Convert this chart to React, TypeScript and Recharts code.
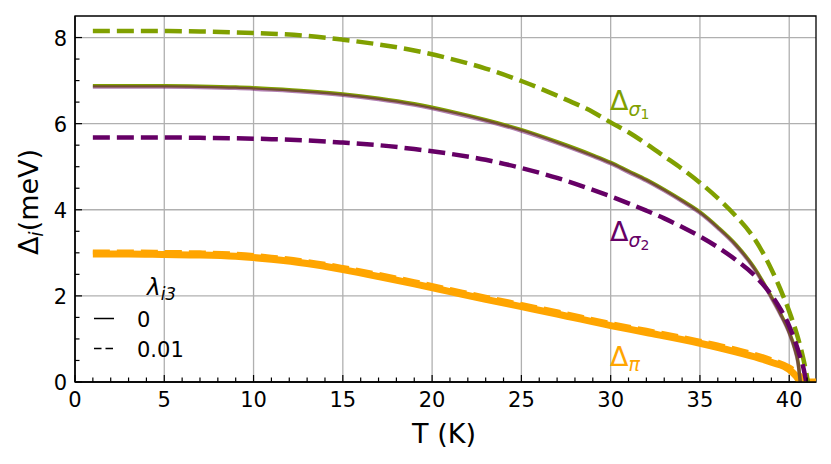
import React from 'react';
import {
  LineChart, Line, XAxis, YAxis, CartesianGrid, ReferenceArea,
} from 'recharts';

// temperatures (K) and gaps (meV)
const T_S1_DASH = [1, 3, 5, 7, 9, 11, 13, 15, 17, 19, 21, 23, 25, 27, 29, 30, 31, 32, 33, 34, 35, 36, 37, 38, 38.5, 39, 39.5, 40, 40.4, 40.7, 40.9, 41.05];
const S1_DASH = [8.15, 8.15, 8.15, 8.14, 8.12, 8.09, 8.04, 7.95, 7.84, 7.7, 7.51, 7.28, 6.99, 6.65, 6.27, 6.03, 5.8, 5.53, 5.24, 4.95, 4.63, 4.27, 3.86, 3.36, 3.02, 2.62, 2.16, 1.64, 1.15, 0.7, 0.33, 0];

const T_S2_DASH = [1, 3, 5, 7, 9, 11, 13, 15, 17, 19, 21, 23, 25, 27, 29, 30, 31, 32, 33, 34, 35, 36, 37, 38, 38.5, 39, 39.5, 40, 40.3, 40.6, 40.8, 40.95];
const S2_DASH = [5.68, 5.68, 5.68, 5.67, 5.66, 5.64, 5.61, 5.56, 5.5, 5.41, 5.3, 5.16, 4.97, 4.74, 4.46, 4.31, 4.15, 3.98, 3.8, 3.6, 3.38, 3.13, 2.84, 2.5, 2.28, 2.02, 1.7, 1.3, 0.98, 0.6, 0.32, 0];

const T_S_SOLID = [1, 3, 5, 7, 9, 11, 13, 15, 17, 19, 21, 23, 25, 27, 29, 30, 31, 32, 33, 34, 35, 36, 37, 38, 38.5, 39, 39.5, 40, 40.3, 40.5, 40.62];
const S1_SOLID = [6.88, 6.88, 6.88, 6.87, 6.85, 6.81, 6.76, 6.69, 6.59, 6.46, 6.29, 6.09, 5.86, 5.58, 5.27, 5.1, 4.9, 4.7, 4.47, 4.22, 3.95, 3.6, 3.2, 2.68, 2.35, 1.98, 1.6, 1.16, 0.8, 0.45, 0];
const S2_SOLID = [6.85, 6.85, 6.85, 6.84, 6.82, 6.78, 6.73, 6.66, 6.56, 6.43, 6.26, 6.06, 5.83, 5.55, 5.24, 5.07, 4.87, 4.67, 4.44, 4.19, 3.92, 3.57, 3.17, 2.65, 2.32, 1.95, 1.57, 1.13, 0.77, 0.42, 0];

const T_PI_SOLID = [1, 3, 5, 7, 9, 11, 13, 15, 17, 19, 21, 23, 25, 27, 30, 32, 35, 37, 39, 40, 40.4, 40.65, 41.5];
const PI_SOLID = [2.97, 2.97, 2.96, 2.95, 2.92, 2.85, 2.75, 2.61, 2.45, 2.28, 2.1, 1.92, 1.75, 1.58, 1.31, 1.15, 0.9, 0.7, 0.46, 0.29, 0.13, 0, 0];

const T_PI_DASH = [1, 3, 5, 7, 9, 11, 13, 15, 17, 19, 21, 23, 25, 27, 30, 32, 35, 37, 39, 40, 40.5, 40.8, 41];
const PI_DASH = [3.02, 3.02, 3.01, 3.0, 2.97, 2.9, 2.8, 2.66, 2.5, 2.33, 2.15, 1.97, 1.8, 1.63, 1.36, 1.2, 0.95, 0.76, 0.52, 0.35, 0.2, 0.07, 0];

const X_TICKS = Array.from({ length: 42 }, (_, i) => i);
const Y_TICKS = Array.from({ length: 17 }, (_, i) => i * 0.5);
const X_GRID = [0, 5, 10, 15, 20, 25, 30, 35, 40];
const Y_GRID = [0, 2, 4, 6, 8];

const GREEN = '#80a000';
const PURPLE = '#660066';
const ORANGE = '#ffa500';
const FONT = 'DejaVu Sans';

const pts = (ts: number[], vs: number[]) => ts.map((t, i) => ({ t, v: vs[i] }));

const XTick = ({ x, y, payload }: any) => {
  const major = payload.value % 5 === 0;
  return (
    <g>
      <line x1={x} x2={x} y1={y} y2={y - (major ? 7 : 4.5)} stroke="#000" strokeWidth={1.2} />
      {major && (
        <text x={x} y={y + 25} textAnchor="middle" fontSize={21} fontFamily={FONT} fill="#000">
          {payload.value}
        </text>
      )}
    </g>
  );
};

const YTick = ({ x, y, payload }: any) => {
  const major = payload.value % 2 === 0;
  return (
    <g>
      <line x1={x} x2={x + (major ? 7 : 4.5)} y1={y} y2={y} stroke="#000" strokeWidth={1.2} />
      {major && (
        <text x={x - 8} y={y + 8} textAnchor="end" fontSize={21} fontFamily={FONT} fill="#000">
          {payload.value}
        </text>
      )}
    </g>
  );
};

export default function App() {
  return (
    <div style={{ position: 'absolute', left: 0, top: 0, width: 831, height: 464, background: '#fff', fontFamily: FONT }}>
      <LineChart width={831} height={464} margin={{ top: 16, right: 15, bottom: 52, left: 35 }}>
        <CartesianGrid stroke="#b0b0b0" strokeWidth={1.3} verticalValues={X_GRID} horizontalValues={Y_GRID} />
        <XAxis
          dataKey="t" type="number" domain={[0, 41.5]} ticks={X_TICKS} interval={0}
          allowDataOverflow tickSize={0} tickMargin={0} height={30}
          axisLine={{ stroke: '#000', strokeWidth: 1.3 }} tickLine={false} tick={<XTick />}
        />
        <YAxis
          dataKey="v" type="number" domain={[0, 8.5]} ticks={Y_TICKS} interval={0}
          allowDataOverflow tickSize={0} tickMargin={0} width={40}
          axisLine={{ stroke: '#000', strokeWidth: 1.3 }} tickLine={false} tick={<YTick />}
        />
        <Line data={pts(T_PI_SOLID, PI_SOLID)} dataKey="v" type="monotone" stroke={ORANGE} strokeWidth={7} dot={false} isAnimationActive={false} />
        <Line data={pts(T_PI_DASH, PI_DASH)} dataKey="v" type="monotone" stroke={ORANGE} strokeWidth={5} strokeDasharray="17 7" dot={false} isAnimationActive={false} />
        <Line data={pts(T_S_SOLID, S1_SOLID)} dataKey="v" type="monotone" stroke={GREEN} strokeWidth={3.5} dot={false} isAnimationActive={false} />
        <Line data={pts(T_S_SOLID, S2_SOLID)} dataKey="v" type="monotone" stroke={PURPLE} strokeOpacity={0.5} strokeWidth={3.5} dot={false} isAnimationActive={false} />
        <Line data={pts(T_S1_DASH, S1_DASH)} dataKey="v" type="monotone" stroke={GREEN} strokeWidth={4.5} strokeDasharray="17 7" dot={false} isAnimationActive={false} />
        <Line data={pts(T_S2_DASH, S2_DASH)} dataKey="v" type="monotone" stroke={PURPLE} strokeWidth={4.5} strokeDasharray="17 7" dot={false} isAnimationActive={false} />
        <ReferenceArea x1={0} x2={41.5} y1={0} y2={8.5} fill="none" stroke="#000" strokeWidth={1.3} ifOverflow="visible" />
      </LineChart>
      <svg width={831} height={464} style={{ position: 'absolute', left: 0, top: 0, pointerEvents: 'none' }} fontFamily={FONT}>
        <text x={38} y={202} transform="rotate(-90 38 202)" textAnchor="middle" fontSize={27} fill="#000">
          Δ<tspan fontStyle="italic" fontSize={19} dy={5}>i</tspan><tspan dy={-5}>(meV)</tspan>
        </text>
        <text x={444} y={443} textAnchor="middle" fontSize={27} fill="#000">T (K)</text>

        <text x={610} y={110} fontSize={27} fill={GREEN}>
          Δ<tspan fontSize={19} dy={6} fontStyle="italic">σ</tspan><tspan fontSize={14} dy={3}>1</tspan>
        </text>
        <text x={610} y={241} fontSize={27} fill={PURPLE}>
          Δ<tspan fontSize={19} dy={6} fontStyle="italic">σ</tspan><tspan fontSize={14} dy={3}>2</tspan>
        </text>
        <text x={610} y={366} fontSize={27} fill={ORANGE}>
          Δ<tspan fontSize={19} dy={5} fontStyle="italic">π</tspan>
        </text>

        <text x={147} y={295} fontSize={23} fill="#000" fontStyle="italic">
          λ<tspan fontSize={17} dy={5}>i3</tspan>
        </text>
        <line x1={94} x2={114} y1={318.5} y2={318.5} stroke="#000" strokeWidth={1.5} />
        <text x={137} y={327} fontSize={21} fill="#000">0</text>
        <line x1={94} x2={114} y1={348.5} y2={348.5} stroke="#000" strokeWidth={1.5} strokeDasharray="7.5 4" />
        <text x={137} y={357} fontSize={21} fill="#000">0.01</text>
      </svg>
    </div>
  );
}
